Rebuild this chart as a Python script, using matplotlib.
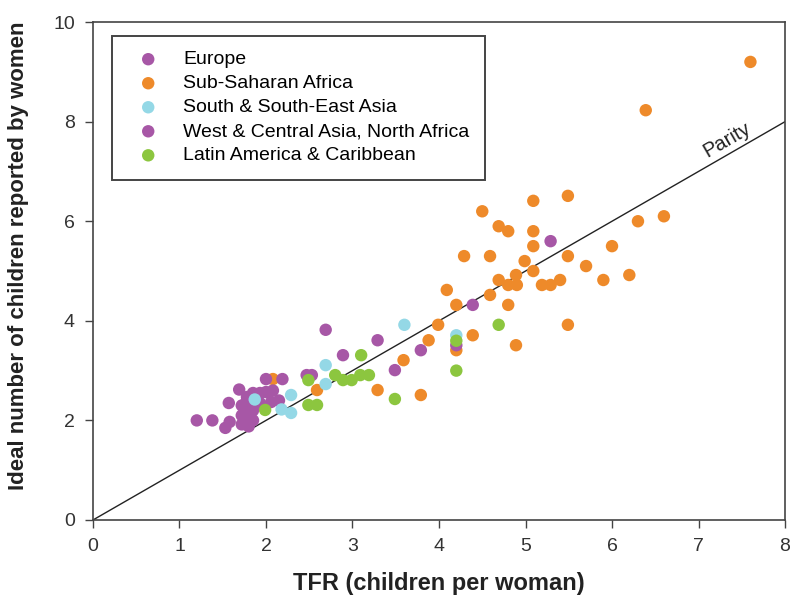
import matplotlib
matplotlib.use("Agg")
import matplotlib.pyplot as plt

plt.rcParams["font.family"] = ["Liberation Sans", "DejaVu Sans"]

# values
europe_x = [1.2, 1.38, 1.53, 1.58, 1.57, 1.69, 1.72, 1.72, 1.72, 1.78, 1.82, 1.84, 1.8, 1.78,
            1.85, 1.93, 2.0, 2.08, 1.78, 1.85, 1.93, 2.06, 2.15, 1.78, 1.85]
europe_y = [2.0, 2.0, 1.85, 1.97, 2.35, 2.62, 2.3, 2.1, 1.92, 2.4, 2.2, 2.0, 1.88, 2.47,
            2.55, 2.55, 2.57, 2.6, 2.27, 2.2, 2.35, 2.37, 2.4, 2.03, 2.0]

ssa_x = [2.08, 2.59, 3.29, 3.59, 3.79, 3.88, 3.99, 4.09, 4.2, 4.2, 4.29, 4.39, 4.5, 4.59,
         4.59, 4.69, 4.69, 4.8, 4.8, 4.8, 4.89, 4.9, 4.89, 4.99, 5.09, 5.09, 5.09, 5.09,
         5.19, 5.29, 5.4, 5.49, 5.49, 5.49, 5.7, 5.9, 6.0, 6.2, 6.3, 6.6, 6.39, 7.6]
ssa_y = [2.83, 2.61, 2.61, 3.21, 2.51, 3.61, 3.92, 4.62, 4.32, 3.41, 5.3, 3.71, 6.2, 5.3,
         4.52, 5.9, 4.82, 5.8, 4.72, 4.32, 4.92, 4.72, 3.51, 5.2, 6.41, 5.8, 5.5, 5.0,
         4.72, 4.72, 4.82, 6.51, 5.3, 3.92, 5.1, 4.82, 5.5, 4.92, 6.0, 6.1, 8.23, 9.2]

sasia_x = [1.87, 2.18, 2.29, 2.29, 2.69, 2.69, 3.6, 4.2]
sasia_y = [2.42, 2.22, 2.15, 2.51, 3.11, 2.73, 3.92, 3.71]

wcasia_x = [2.0, 2.19, 2.47, 2.53, 2.69, 2.89, 3.29, 3.49, 3.79, 4.2, 4.39, 5.29]
wcasia_y = [2.83, 2.83, 2.91, 2.91, 3.82, 3.31, 3.61, 3.01, 3.41, 3.51, 4.32, 5.6]

latam_x = [1.99, 2.49, 2.49, 2.59, 2.8, 2.89, 2.99, 3.09, 3.19, 3.1, 3.49, 4.69, 4.2, 4.2]
latam_y = [2.21, 2.81, 2.31, 2.31, 2.91, 2.81, 2.81, 2.91, 2.91, 3.31, 2.43, 3.92, 3.0, 3.6]

names = ["Europe", "Sub-Saharan Africa", "South & South-East Asia",
         "West & Central Asia, North Africa", "Latin America & Caribbean"]
colors = ["#a757a6", "#ee8a2a", "#94d8e6", "#a757a6", "#8cc63f"]

fig = plt.figure(figsize=(7.9, 5.97), dpi=100)
ax = fig.add_axes([0.1177, 0.129, 0.8760, 0.834])

groups = [(europe_x, europe_y), (ssa_x, ssa_y), (sasia_x, sasia_y),
          (wcasia_x, wcasia_y), (latam_x, latam_y)]
# orange first, the rest on top
for i in [1, 0, 3, 2, 4]:
    gx, gy = groups[i]
    ax.scatter(gx, gy, s=80, color=colors[i], edgecolors="none", zorder=3)

handles = [ax.scatter([], [], s=80, color=c, edgecolors="none") for c in colors]
leg = ax.legend(handles, names, loc="upper left", bbox_to_anchor=(0.027, 0.973),
                frameon=True, fancybox=False, edgecolor="#444444", framealpha=1,
                prop={"size": 14}, labelspacing=0.33,
                handletextpad=0.7, borderpad=0.78, handlelength=2.2, borderaxespad=0)
leg.get_frame().set_linewidth(1.4)

ax.plot([0, 8], [0, 8], color="#222222", linewidth=1.0, zorder=2)
ax.text(7.33, 7.63, "Parity", rotation=29.9, ha="center", va="center",
        fontsize=14.5, color="#222222")

ax.set_xlim(0, 8)
ax.set_ylim(0, 10)
ax.set_xticks(range(0, 9))
ax.set_yticks(range(0, 11, 2))
for s in ax.spines.values():
    s.set_color("#444444")
    s.set_linewidth(1.2)
ax.tick_params(direction="out", length=6, width=1.0, color="#444444",
               labelsize=14, labelcolor="#333333", pad=7)

ax.set_xlabel("TFR (children per woman)", fontsize=17, fontweight="bold",
              color="#222222", labelpad=12)
ax.set_ylabel("Ideal number of children reported by women", fontsize=16,
              fontweight="bold", color="#222222")
ax.yaxis.set_label_coords(-0.092, 0.53)

fig.savefig("out.png", dpi=100)
